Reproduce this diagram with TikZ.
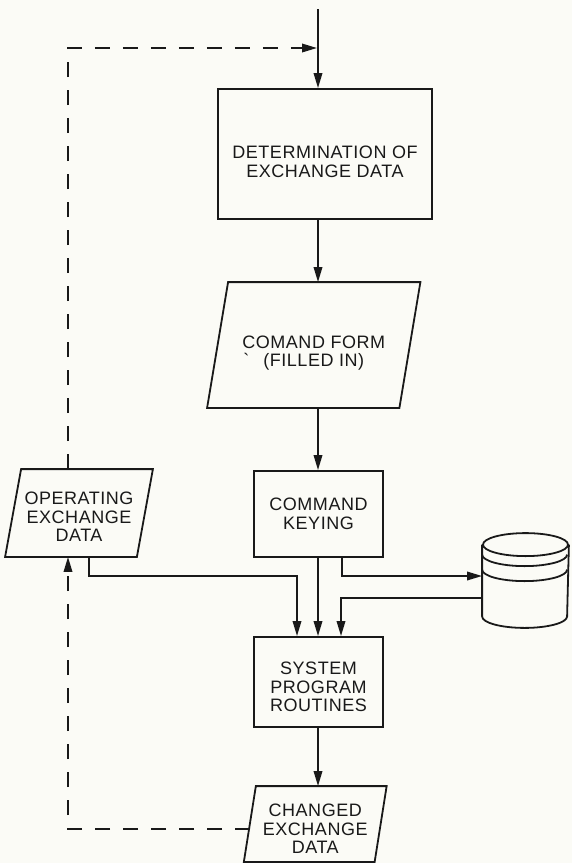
\documentclass[tikz,border=0pt]{standalone}
\usepackage{fontspec}
\setmainfont{Liberation Sans}[LetterSpace=3]
\usetikzlibrary{arrows.meta}
\definecolor{ink}{RGB}{25,25,25}
\definecolor{paper}{RGB}{251,251,246}
\begin{document}
\begin{tikzpicture}[x=1pt,y=-1pt,
  line width=1.8pt, draw=ink,
  txt/.style={font=\fontsize{18}{18.5}\selectfont, align=center, text=ink, inner sep=0pt},
  proc/.style={draw, rectangle, inner sep=0pt},
  io/.style={rectangle, inner sep=0pt},
  arrowline/.style={-{Triangle[length=15pt,width=8.5pt]}},
  feedback/.style={arrowline, dash pattern=on 15pt off 13pt},
]
\fill[paper] (0,0) rectangle (572,863);
\useasboundingbox (0,0) rectangle (572,863);

% process boxes
\node[proc, minimum width=214pt, minimum height=130pt,
  label={[txt,yshift=-8pt]center:{DETERMINATION OF\\EXCHANGE DATA}}] (det) at (325,154) {};
\node[proc, minimum width=129pt, minimum height=86pt,
  label={[txt]center:{COMMAND\\KEYING}}] (key) at (318.5,514) {};
\node[proc, minimum width=129pt, minimum height=90pt,
  label={[txt,yshift=-5pt]center:{SYSTEM\\PROGRAM\\ROUTINES}}] (sys) at (318.5,682) {};

% data (parallelogram) boxes
\node[io, minimum width=190.5pt, minimum height=124pt,
  label={[txt,yshift=-8pt]center:{COMAND FORM\\\llap{\textasciigrave\hspace{14pt}}(FILLED IN)}}] (form) at (313.75,345) {};
\node[io, minimum width=130pt, minimum height=86pt,
  label={[txt,yshift=-4pt]center:{OPERATING\\EXCHANGE\\DATA}}] (op) at (79,513) {};
\node[io, minimum width=129pt, minimum height=74pt,
  label={[txt,yshift=-5pt]center:{CHANGED\\EXCHANGE\\DATA}}] (chg) at (315.25,824) {};

\draw[line join=miter] ([xshift=10.5pt]form.north west) -- ([xshift=10.5pt]form.north east)
  -- ([xshift=-10.5pt]form.south east) -- ([xshift=-10.5pt]form.south west) -- cycle;
\draw[line join=miter] ([xshift=8pt]op.north west) -- ([xshift=8pt]op.north east)
  -- ([xshift=-8pt]op.south east) -- ([xshift=-8pt]op.south west) -- cycle;
\draw[line join=miter] ([xshift=6pt]chg.north west) -- ([xshift=6pt]chg.north east)
  -- ([xshift=-6pt]chg.south east) -- ([xshift=-6pt]chg.south west) -- cycle;

% disk store
\node[io, minimum width=85pt, minimum height=93pt] (disk) at (525.5,580.5) {};
\draw ([yshift=-11.5pt]disk.north) ellipse [x radius=42.5pt, y radius=11.5pt];
\draw ([yshift=-21.5pt]disk.north west) arc[start angle=180, end angle=360, x radius=42.5pt, y radius=11.5pt];
\draw ([yshift=-36.5pt]disk.north west) arc[start angle=180, end angle=360, x radius=42.5pt, y radius=11.5pt];
\draw ([yshift=-11.5pt]disk.north west) -- ([yshift=11.5pt]disk.south west)
  arc[start angle=180, end angle=360, x radius=42.5pt, y radius=11.5pt]
  -- ([yshift=-11.5pt]disk.north east);

% routing points
\coordinate (top) at (318,9);
\coordinate (fbTop) at (68,48);
\coordinate (fbBot) at (68,829);
\coordinate (chgIn) at (250,829);
\coordinate (j1) at (89,576);
\coordinate (in1) at (297,576);
\coordinate (j2) at (342,576);
\coordinate (j3) at (341,598);

% main flow
\draw[arrowline] (top) -- (top |- det.north);
\draw[arrowline] (det.south -| top) -- (form.north -| top);
\draw[arrowline] (form.south -| top) -- (key.north -| top);
\draw[arrowline] (key.south -| top) -- (sys.north -| top);
\draw[arrowline] (sys.south -| top) -- (chg.north -| top);

% inputs to system routines and disk
\draw[arrowline] (op.south -| j1) -- (j1) -- (in1) -- (in1 |- sys.north);
\draw[arrowline] (key.south -| j2) -- (j2) -- (j2 -| disk.west);
\draw[arrowline] (j3 -| disk.west) -- (j3) -- (j3 |- sys.north);

% feedback loops
\draw[feedback, shorten >=1pt] (op.north -| fbTop) -- (fbTop) -- (fbTop -| top);
\draw[feedback] (chgIn) -- (fbBot) -- (fbBot |- op.south);
\end{tikzpicture}
\end{document}
